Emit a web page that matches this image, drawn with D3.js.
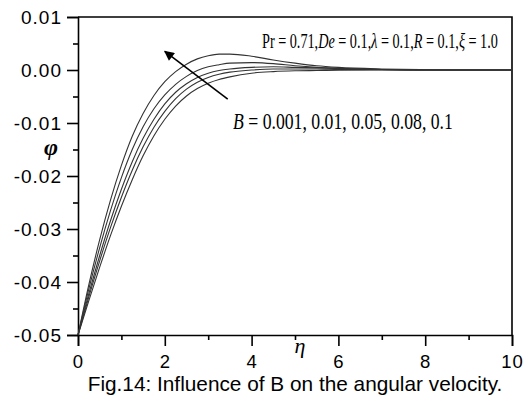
<!DOCTYPE html>
<html>
<head>
<meta charset="utf-8">
<script src="https://cdn.jsdelivr.net/npm/d3@7"></script>
<style>
  body { margin: 0; background: #fff; }
  svg { display: block; }
</style>
</head>
<body>
<div id="chart"></div>
<script>
const eta = [0, 0.25, 0.5, 0.75, 1, 1.25, 1.5, 1.75, 2, 2.25, 2.5, 2.75, 3, 3.25, 3.5, 4, 4.5, 5, 5.5, 6, 7, 8, 9, 10];

// phi(eta) for each B
const phiB010 = [-0.05, -0.0405, -0.0320, -0.0245, -0.0180, -0.0125, -0.0082, -0.0048, -0.0022, -0.0003, 0.0011, 0.0021, 0.0027, 0.0030, 0.0030, 0.0026, 0.0019, 0.0013, 0.0008, 0.0005, 0.0002, 0.00005, 0, 0];
const phiB008 = [-0.05, -0.0413, -0.0335, -0.0265, -0.0203, -0.0150, -0.0107, -0.0073, -0.0047, -0.0027, -0.0012, -0.0001, 0.0006, 0.0010, 0.0013, 0.0014, 0.0012, 0.0008, 0.0005, 0.0003, 0.0001, 0, 0, 0];
const phiB005 = [-0.05, -0.0422, -0.0350, -0.0284, -0.0225, -0.0173, -0.0129, -0.0093, -0.0064, -0.0042, -0.0026, -0.0014, -0.0006, -0.0001, 0.0002, 0.0005, 0.0006, 0.0005, 0.0004, 0.0003, 0.0001, 0, 0, 0];
const phiB001 = [-0.05, -0.0428, -0.0360, -0.0297, -0.0240, -0.0189, -0.0145, -0.0108, -0.0078, -0.0054, -0.0036, -0.0023, -0.0014, -0.0008, -0.0004, 0.0000, 0.0002, 0.0002, 0.0002, 0.0001, 0.00005, 0, 0, 0];
const phiB0001 = [-0.05, -0.0435, -0.0372, -0.0312, -0.0257, -0.0207, -0.0162, -0.0124, -0.0093, -0.0068, -0.0049, -0.0035, -0.0025, -0.0018, -0.0013, -0.0006, -0.0003, -0.00015, -0.0001, -0.00005, 0, 0, 0, 0];

const seriesList = [phiB0001, phiB001, phiB005, phiB008, phiB010];

const xTicks = [0, 2, 4, 6, 8, 10];
const xMinor = [1, 3, 5, 7, 9];
const yTicks = [0.01, 0.00, -0.01, -0.02, -0.03, -0.04, -0.05];
const yMinor = [0.005, -0.005, -0.015, -0.025, -0.035, -0.045];

const width = 531, height = 396;
const margin = { top: 17, right: 19, bottom: 61, left: 78 };
const w = width - margin.left - margin.right;
const h = height - margin.top - margin.bottom;

const svg = d3.select("#chart").append("svg")
  .attr("width", width)
  .attr("height", height)
  .style("font-family", "'Liberation Sans', Arial, sans-serif");

const g = svg.append("g").attr("transform", `translate(${margin.left},${margin.top})`);

const x = d3.scaleLinear().domain([0, 10]).range([0, w]);
const y = d3.scaleLinear().domain([-0.05, 0.01]).range([h, 0]);

// top and right frame
g.append("path")
  .attr("d", `M0,0H${w}V${h}`)
  .attr("fill", "none")
  .attr("stroke", "#000")
  .attr("stroke-width", 1.6);

const fmtY = d => d3.format(".2f")(d).replace("−", "-");

const xAxis = g.append("g")
  .attr("transform", `translate(0,${h})`)
  .call(d3.axisBottom(x).tickValues(xTicks).tickSize(11).tickPadding(9).tickFormat(d3.format("d")));
g.append("g")
  .attr("transform", `translate(0,${h})`)
  .call(d3.axisBottom(x).tickValues(xMinor).tickSize(5).tickFormat(""))
  .select(".domain").remove();

g.append("g")
  .call(d3.axisLeft(y).tickValues(yTicks).tickSize(11).tickPadding(5).tickFormat(fmtY));
g.append("g")
  .call(d3.axisLeft(y).tickValues(yMinor).tickSize(5).tickFormat(""))
  .select(".domain").remove();

g.selectAll(".domain").attr("stroke-width", 1.6);
g.selectAll(".tick line").attr("stroke-width", 1.6);
g.selectAll(".tick text")
  .style("font-size", "19px")
  .style("letter-spacing", "1px")
  .attr("fill", "#000");
xAxis.selectAll(".tick text").style("font-size", "18.5px");

// curves
const line = d3.line()
  .x((d, i) => x(eta[i]))
  .y(d => y(d))
  .curve(d3.curveMonotoneX);

g.selectAll("path.curve")
  .data(seriesList)
  .enter().append("path")
  .attr("class", "curve")
  .attr("d", line)
  .attr("fill", "none")
  .attr("stroke", "#333")
  .attr("stroke-width", 1.1);

// arrow
svg.append("defs").append("marker")
  .attr("id", "head")
  .attr("viewBox", "0 0 10 10")
  .attr("refX", 9).attr("refY", 5)
  .attr("markerWidth", 14).attr("markerHeight", 10)
  .attr("markerUnits", "userSpaceOnUse")
  .attr("orient", "auto")
  .append("path")
  .attr("d", "M0,0L10,5L0,10Z")
  .attr("fill", "#000");

g.append("line")
  .attr("x1", x(3.45)).attr("y1", y(-0.0055))
  .attr("x2", x(2.0)).attr("y2", y(0.0035))
  .attr("stroke", "#000")
  .attr("stroke-width", 1.6)
  .attr("marker-end", "url(#head)");

// annotations, squeezed horizontally to the width seen in the figure
const serif = "'Liberation Serif', 'Times New Roman', serif";

function squeezed(px, py, target, size, parts) {
  const t = svg.append("text")
    .style("font-family", serif)
    .style("font-size", size + "px");
  parts.forEach(([s, it]) => t.append("tspan").style("font-style", it ? "italic" : "normal").text(s));
  const natural = t.node().getComputedTextLength();
  t.attr("transform", `translate(${px},${py}) scale(${target / natural},1)`);
  return t;
}

squeezed(262, 48, 236, 21, [["Pr", false], [" = 0.71,", false], ["De", true], [" = 0.1,", false], ["λ", true],
  [" = 0.1,", false], ["R", true], [" = 0.1,", false], ["ξ", true], [" = 1.0", false]]);

squeezed(233, 129, 220, 24, [["B", true], [" = 0.001, 0.01, 0.05, 0.08, 0.1", false]]);

// axis labels
svg.append("text")
  .attr("x", 51).attr("y", 155)
  .attr("text-anchor", "middle")
  .style("font-family", serif)
  .style("font-style", "italic")
  .style("font-weight", "bold")
  .style("font-size", "24px")
  .text("φ");

svg.append("text")
  .attr("x", 300).attr("y", 353)
  .attr("text-anchor", "middle")
  .style("font-family", serif)
  .style("font-style", "italic")
  .style("font-size", "22px")
  .text("η");

// caption
svg.append("text")
  .attr("x", 295).attr("y", 391)
  .attr("text-anchor", "middle")
  .style("font-size", "20.8px")
  .text("Fig.14: Influence of B on the angular velocity.");
</script>
</body>
</html>
